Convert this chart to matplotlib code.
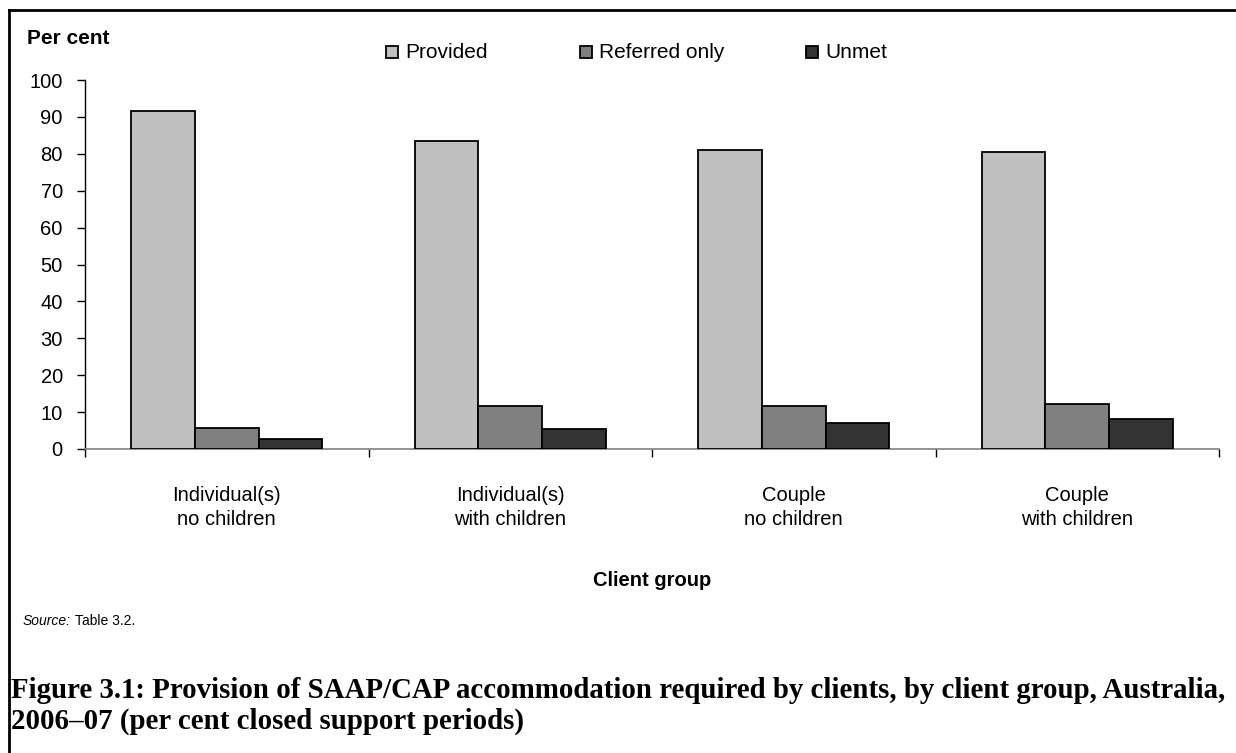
import numpy as np
import matplotlib.pyplot as plt
from matplotlib.lines import Line2D
from matplotlib.patches import Rectangle

plt.rcParams['font.family'] = ['Liberation Sans', 'DejaVu Sans']

# data
groups = ["Individual(s)\nno children", "Individual(s)\nwith children",
          "Couple\nno children", "Couple\nwith children"]
series = ["Provided", "Referred only", "Unmet"]
provided = [91.7, 83.4, 81.0, 80.6]
referred = [5.8, 11.7, 11.7, 12.3]
unmet = [2.6, 5.4, 7.1, 8.1]
colors = ["#c0c0c0", "#808080", "#333333"]

W, H = 1236, 753
fig = plt.figure(figsize=(W / 100, H / 100), dpi=100)
ax = fig.add_axes([85 / W, 1 - 449 / H, (1219 - 85) / W, (449 - 80) / H])

x = np.arange(len(groups))
bw = 0.225
for i, (vals, c) in enumerate(zip([provided, referred, unmet], colors)):
    ax.bar(x + (i - 1) * bw, vals, width=bw, color=c, edgecolor="black",
           linewidth=1.3, label=series[i], zorder=3)

ax.set_xlim(-0.5, len(groups) - 0.5)
ax.set_ylim(0, 100)
ax.set_yticks(np.arange(0, 101, 10))
ax.tick_params(axis="y", labelsize=14.5, length=6, width=1, direction="out",
               pad=10, color="black")
ax.set_xticks(np.arange(-0.5, len(groups), 1.0))
ax.set_xticklabels([])
ax.tick_params(axis="x", length=6, width=1, color="black")
for i, g in enumerate(groups):
    ax.text(i, -15.8, g, ha="center", va="center", fontsize=14.5,
            linespacing=1.32)
for s in ("top", "right"):
    ax.spines[s].set_visible(False)
ax.spines["bottom"].set_color("#808080")
ax.spines["bottom"].set_linewidth(1.2)
ax.spines["left"].set_color("black")
ax.spines["left"].set_linewidth(1.0)

fig.text(27 / W, 1 - 39 / H, "Per cent", fontsize=15, fontweight="bold",
         va="center", ha="left")

# legend, laid out like the original (squares spread across the top)
leg_x = [386, 580, 806]
for lx, c, s in zip(leg_x, colors, series):
    fig.add_artist(Rectangle((lx / W, 1 - 58 / H), 12 / W, 12 / H,
                             transform=fig.transFigure, facecolor=c,
                             edgecolor="black", linewidth=1.3))
    fig.text((lx + 19) / W, 1 - 52 / H, s, fontsize=15, ha="left",
             va="center")

fig.text(652 / W, 1 - 580 / H, "Client group", fontsize=14.5,
         fontweight="bold", ha="center", va="center")
src = fig.text(23 / W, 1 - 621 / H, "Source:", fontsize=10, style="italic",
               ha="left", va="center")
r = fig.canvas.get_renderer()
bb = src.get_window_extent(r)
fig.text((bb.x1 + 4) / W, 1 - 621 / H, "Table 3.2.", fontsize=10,
         ha="left", va="center")

fig.text(11 / W, 1 - 690 / H,
         "Figure 3.1: Provision of SAAP/CAP accommodation required by clients, "
         "by client group, Australia,",
         family="Liberation Serif", fontsize=20.8, fontweight="bold",
         ha="left", va="center")
fig.text(11 / W, 1 - 721 / H, "2006\u201307 (per cent closed support periods)",
         family="Liberation Serif", fontsize=20.8, fontweight="bold",
         ha="left", va="center")

# page frame (cropped at right and bottom)
fig.add_artist(Line2D([9 / W, 9 / W], [0, 1 - 10 / H], transform=fig.transFigure,
                      color="black", linewidth=2))
fig.add_artist(Line2D([9 / W, 1], [1 - 10 / H, 1 - 10 / H],
                      transform=fig.transFigure, color="black", linewidth=2))

fig.savefig("out.png", dpi=100)
